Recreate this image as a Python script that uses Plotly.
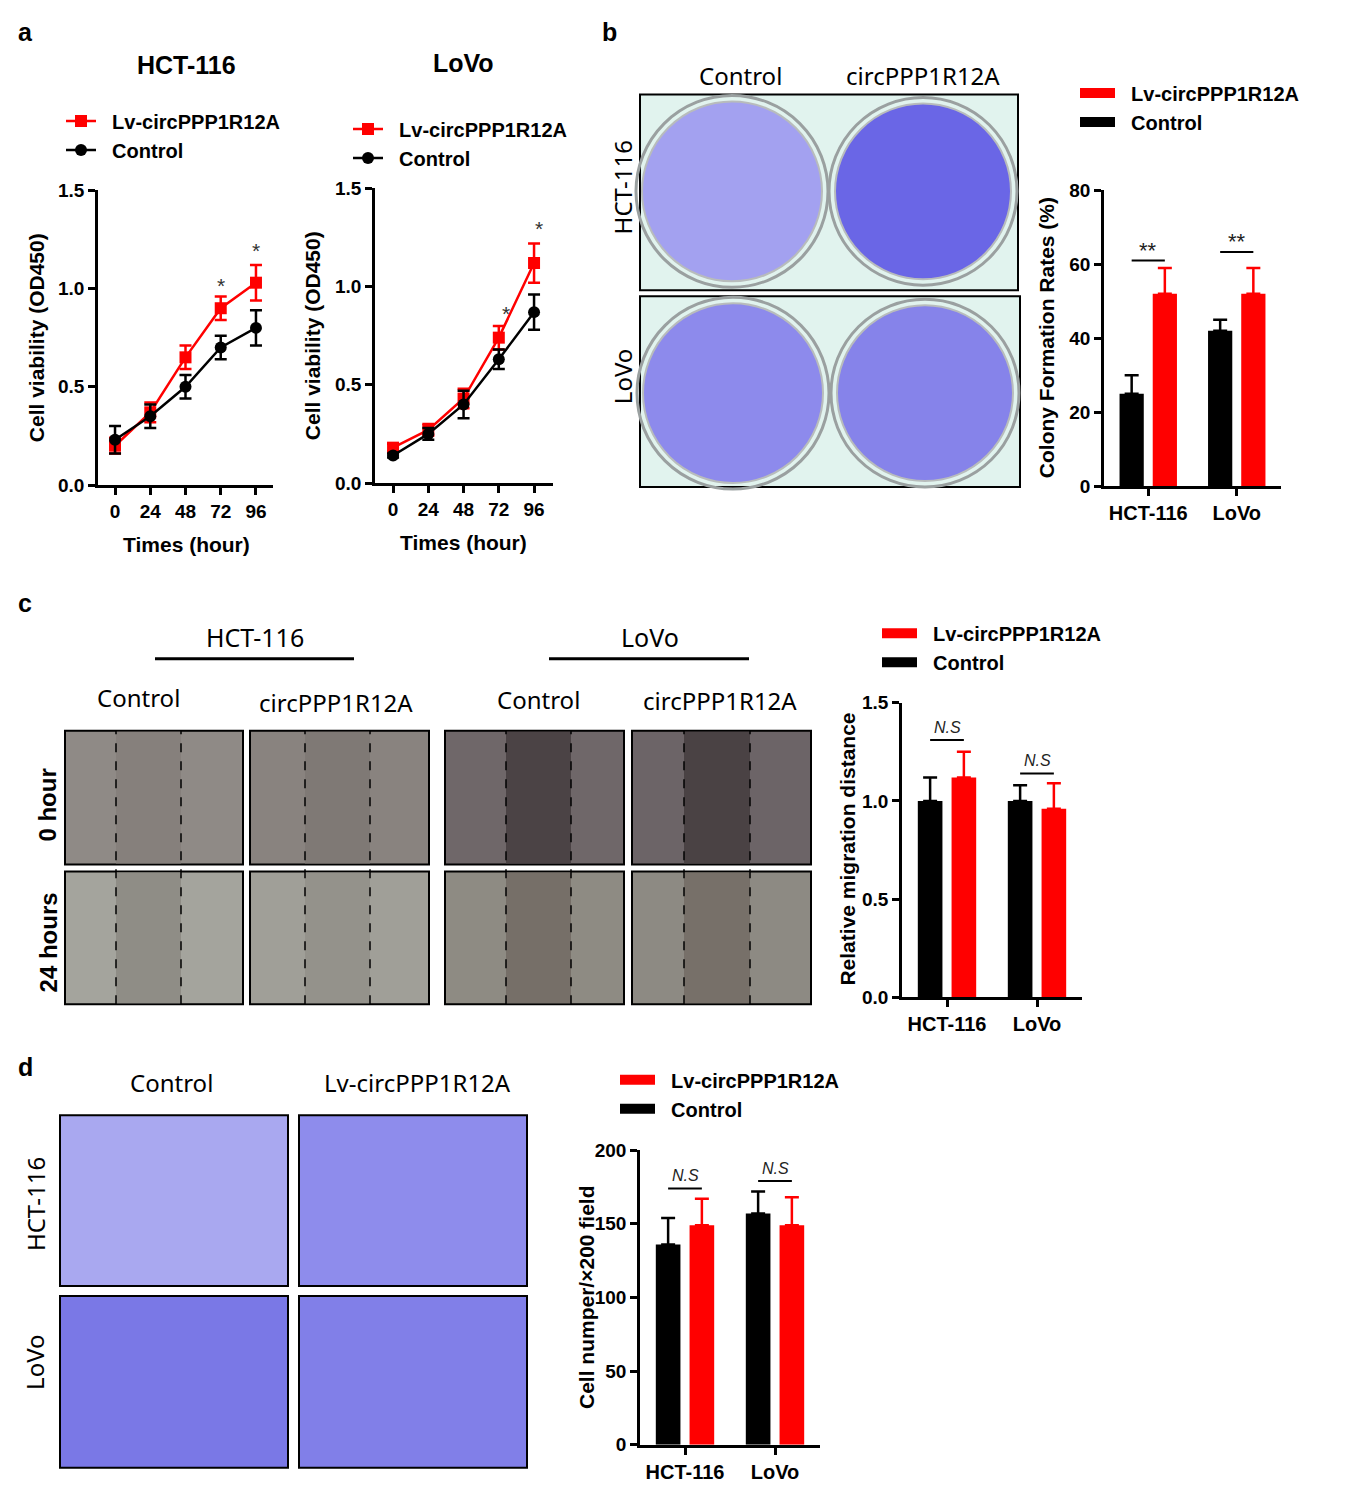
import plotly.graph_objects as go

W, H = 1350, 1508

# ---- data ----
hours = [0, 24, 48, 72, 96]
hct_lv = [0.20, 0.37, 0.65, 0.90, 1.03]
hct_lv_sd = [0.04, 0.05, 0.06, 0.06, 0.09]
hct_ctrl = [0.23, 0.35, 0.50, 0.70, 0.80]
hct_ctrl_sd = [0.07, 0.06, 0.06, 0.06, 0.09]
lovo_lv = [0.18, 0.27, 0.43, 0.74, 1.12]
lovo_lv_sd = [0.02, 0.03, 0.05, 0.06, 0.10]
lovo_ctrl = [0.14, 0.25, 0.40, 0.63, 0.87]
lovo_ctrl_sd = [0.01, 0.03, 0.07, 0.05, 0.09]
hct_star_x = [72, 96]
hct_star_y = [1.03, 1.21]
lovo_star_x = [72, 96]
lovo_star_y = [0.88, 1.31]

cells = ["HCT-116", "LoVo"]
colony_ctrl = [25, 42]
colony_ctrl_sd = [5, 3]
colony_lv = [52, 52]
colony_lv_sd = [7, 7]
colony_sig = ["**", "**"]
colony_sig_y = [61, 63.3]

migr_ctrl = [1.00, 1.00]
migr_ctrl_sd = [0.12, 0.08]
migr_lv = [1.12, 0.96]
migr_lv_sd = [0.13, 0.13]
migr_sig = ["N.S", "N.S"]
migr_sig_y = [1.31, 1.14]

inv_ctrl = [136, 157]
inv_ctrl_sd = [18, 15]
inv_lv = [149, 149]
inv_lv_sd = [18, 19]
inv_sig = ["N.S", "N.S"]
inv_sig_y = [174, 179]

RED = "#ff0000"
BLACK = "#000000"
LV = "Lv-circPPP1R12A"
CTRL = "Control"
PAD = "\u00a0\u00a0"  # a little extra room between legend key and label
ARIAL = "Liberation Sans"
YAHEI = "Noto Sans"
BARGAP = 0.25

# the photographed page comes out slightly squeezed in y, undo that here
Y_OFF, Y_SCALE = 9.4, 0.9873


def px(x):
    return x / W


def py(y):
    return 1 - ((y - Y_OFF) / Y_SCALE) / H


fig = go.Figure()

# ---- panel a: line charts ----
def add_growth(xa, ya, leg, lv, lv_sd, ctrl, ctrl_sd):
    fig.add_trace(go.Scatter(
        x=hours, y=lv, name=PAD + LV, mode="lines+markers",
        line=dict(color=RED, width=2.5),
        marker=dict(symbol="square", size=12, color=RED),
        error_y=dict(type="data", array=lv_sd, color=RED, thickness=2.5, width=6),
        xaxis=xa, yaxis=ya, legend=leg))
    fig.add_trace(go.Scatter(
        x=hours, y=ctrl, name=PAD + CTRL, mode="lines+markers",
        line=dict(color=BLACK, width=2.5),
        marker=dict(symbol="circle", size=12, color=BLACK),
        error_y=dict(type="data", array=ctrl_sd, color=BLACK, thickness=2.5, width=6),
        xaxis=xa, yaxis=ya, legend=leg))


add_growth("x", "y", "legend", hct_lv, hct_lv_sd, hct_ctrl, hct_ctrl_sd)
add_growth("x2", "y2", "legend2", lovo_lv, lovo_lv_sd, lovo_ctrl, lovo_ctrl_sd)


# ---- bar charts ----
def add_bars(xa, ya, leg, ctrl, ctrl_sd, lv, lv_sd):
    fig.add_trace(go.Bar(
        x=cells, y=ctrl, name=CTRL, marker=dict(color=BLACK, line=dict(width=0)),
        error_y=dict(type="data", array=ctrl_sd, arrayminus=[0] * len(ctrl),
                     symmetric=False, color=BLACK, thickness=2.5, width=7),
        xaxis=xa, yaxis=ya, showlegend=False))
    fig.add_trace(go.Bar(
        x=cells, y=lv, name=LV, marker=dict(color=RED, line=dict(width=0)),
        error_y=dict(type="data", array=lv_sd, arrayminus=[0] * len(lv),
                     symmetric=False, color=RED, thickness=2.5, width=7),
        xaxis=xa, yaxis=ya, showlegend=False))
    # wide legend keys like the GraphPad ones
    for name, col in [(LV, RED), (CTRL, BLACK)]:
        fig.add_trace(go.Scatter(
            x=[None], y=[None], name=PAD + name, mode="lines",
            line=dict(color=col, width=14), xaxis=xa, yaxis=ya, legend=leg))


add_bars("x3", "y3", "legend3", colony_ctrl, colony_ctrl_sd, colony_lv, colony_lv_sd)
add_bars("x4", "y4", "legend4", migr_ctrl, migr_ctrl_sd, migr_lv, migr_lv_sd)
add_bars("x5", "y5", "legend5", inv_ctrl, inv_ctrl_sd, inv_lv, inv_lv_sd)

tickfont = dict(family=ARIAL, size=19, color="black", weight=700)
axis_style = dict(showgrid=False, zeroline=False, showline=True, linecolor="black",
                  linewidth=2.5, ticks="outside", ticklen=7, tickwidth=2.5,
                  tickcolor="black", tickfont=tickfont, fixedrange=True)


def xdom(a, b):
    return [px(a), px(b)]


def ydom(top, bottom):
    return [py(bottom), py(top)]


layout_axes = dict(
    xaxis=dict(domain=xdom(98, 273), range=[-11.6, 107.6], anchor="y",
               tickvals=hours, **axis_style),
    yaxis=dict(domain=ydom(190, 485), range=[0, 1.5], anchor="x", dtick=0.5,
               tickformat=".1f", **axis_style),
    xaxis2=dict(domain=xdom(375, 553), range=[-12.3, 108.9], anchor="y2",
                tickvals=hours, **axis_style),
    yaxis2=dict(domain=ydom(188, 483), range=[0, 1.5], anchor="x2", dtick=0.5,
                tickformat=".1f", **axis_style),
    xaxis3=dict(domain=xdom(1104, 1281), range=[-0.5, 1.5], anchor="y3",
                **axis_style),
    yaxis3=dict(domain=ydom(190, 486), range=[0, 80], anchor="x3", dtick=20,
                **axis_style),
    xaxis4=dict(domain=xdom(902, 1082), range=[-0.5, 1.5], anchor="y4",
                **axis_style),
    yaxis4=dict(domain=ydom(703, 998), range=[0, 1.5], anchor="x4", dtick=0.5,
                tickformat=".1f", **axis_style),
    xaxis5=dict(domain=xdom(640, 820), range=[-0.5, 1.5], anchor="y5",
                **axis_style),
    yaxis5=dict(domain=ydom(1151, 1446), range=[0, 200], anchor="x5", dtick=50,
                **axis_style),
)
for k in ["xaxis3", "xaxis4", "xaxis5"]:
    layout_axes[k]["tickfont"] = dict(family=ARIAL, size=20, color="black", weight=700)

legfont = dict(family=ARIAL, size=20, color="black", weight=700)


def leg(x, y, iw):
    return dict(x=px(x), y=py(y), xanchor="left", yanchor="top", font=legfont,
                bgcolor="rgba(0,0,0,0)", traceorder="normal", tracegroupgap=0,
                itemwidth=iw, itemclick=False)


annotations = []
shapes = []


def text(x, y, s, size=20, family=YAHEI, bold=False, angle=0):
    annotations.append(dict(
        x=px(x), y=py(y), xref="paper", yref="paper", text=s, showarrow=False,
        textangle=angle, xanchor="center", yanchor="middle",
        font=dict(family=family, size=size, color="black",
                  weight=700 if bold else 400)))


def rect(x0, y0, x1, y1, fill, line="black", lw=2):
    shapes.append(dict(type="rect", xref="paper", yref="paper", x0=px(x0), x1=px(x1),
                       y0=py(y1), y1=py(y0), fillcolor=fill,
                       line=dict(color=line, width=lw), layer="below"))


def vline(x, y0, y1):
    shapes.append(dict(type="line", xref="paper", yref="paper", x0=px(x), x1=px(x),
                       y0=py(y1), y1=py(y0), line=dict(color="black", width=1.5, dash="dash")))


def hline(x0, x1, y, lw=3):
    shapes.append(dict(type="line", xref="paper", yref="paper", x0=px(x0), x1=px(x1),
                       y0=py(y), y1=py(y), line=dict(color="black", width=lw)))


def circle(cx, cy, r, fill, line="#8f9494", lw=3):
    shapes.append(dict(type="circle", xref="paper", yref="paper",
                       x0=px(cx - r), x1=px(cx + r), y0=py(cy + r), y1=py(cy - r),
                       fillcolor=fill, line=dict(color=line, width=lw), layer="below"))


# panel letters
text(25, 31, "a", 25, ARIAL, True)
text(609, 31, "b", 25, ARIAL, True)
text(25, 603, "c", 25, ARIAL, True)
text(25, 1068, "d", 25, ARIAL, True)

# panel a titles
text(186, 64, "HCT-116", 25, ARIAL, True)
text(464, 62, "LoVo", 25, ARIAL, True)
text(36, 338, "Cell viability (OD450)", 21, ARIAL, True, -90)
text(312, 336, "Cell viability (OD450)", 21, ARIAL, True, -90)
text(186, 545, "Times (hour)", 21, ARIAL, True)
text(464, 543, "Times (hour)", 21, ARIAL, True)

for sx, sy in zip(hct_star_x, hct_star_y):
    annotations.append(dict(x=sx, y=sy, xref="x", yref="y", text="*", showarrow=False,
                            yshift=-3, font=dict(family=ARIAL, size=21, color="#333")))
for i, (sx, sy) in enumerate(zip(lovo_star_x, lovo_star_y)):
    annotations.append(dict(x=sx, y=sy, xref="x2", yref="y2", text="*", showarrow=False,
                            xshift=7 if i == 0 else 5, yshift=-3,
                            font=dict(family=ARIAL, size=21, color="#333")))

# panel b photos: colony plates
text(740, 75, "Control", 24, YAHEI)
text(923, 75, "circPPP1R12A", 24, YAHEI)
text(622, 187, "HCT-116", 24, YAHEI, False, -90)
text(622, 376, "LoVo", 24, YAHEI, False, -90)
rect(640, 94, 1018, 290, "#e1f3ee")
rect(640, 296, 1020, 487, "#e1f3ee")
circle(732, 191, 96, "rgba(0,0,0,0)", "#9aa0a0", 3)
circle(732, 191, 90, "#a3a1f0", "#b8bcbc", 2)
circle(923, 191, 94, "rgba(0,0,0,0)", "#9aa0a0", 3)
circle(923, 191, 88, "#6a66e6", "#b8bcbc", 2)
circle(733, 393, 96, "rgba(0,0,0,0)", "#9aa0a0", 3)
circle(733, 393, 90, "#8d8aec", "#b8bcbc", 2)
circle(925, 393, 94, "rgba(0,0,0,0)", "#9aa0a0", 3)
circle(925, 393, 88, "#8683ea", "#b8bcbc", 2)

text(1046, 338, "Colony Formation Rates (%)", 21, ARIAL, True, -90)

# panel c photos: wound healing
text(255, 637, "HCT-116", 25, YAHEI)
text(650, 637, "LoVo", 25, YAHEI)
hline(155, 354, 659)
hline(549, 749, 659)
text(138, 698, "Control", 24, YAHEI)
text(336, 703, "circPPP1R12A", 24, YAHEI)
text(538, 700, "Control", 24, YAHEI)
text(720, 701, "circPPP1R12A", 24, YAHEI)
text(48, 806, "0 hour", 24, ARIAL, True, -90)
text(48, 943, "24 hours", 24, ARIAL, True, -90)

cols = [(65, 243, 116, 181), (250, 429, 305, 370), (445, 624, 506, 571), (632, 811, 684, 750)]
rows = [(731, 865), (872, 1005)]
outer = [["#8f8a86", "#89837f", "#6f6769", "#6c6467"],
         ["#a4a49d", "#a09f98", "#8e8b83", "#8d8a83"]]
gap = [["#86807c", "#7f7975", "#4b4345", "#4a4244"],
       ["#8f8d86", "#94928b", "#766f68", "#777069"]]
for r, (y0, y1) in enumerate(rows):
    for c, (x0, x1, d0, d1) in enumerate(cols):
        rect(x0, y0, x1, y1, outer[r][c])
        shapes.append(dict(type="rect", xref="paper", yref="paper", x0=px(d0), x1=px(d1),
                           y0=py(y1 - 1), y1=py(y0 + 1), fillcolor=gap[r][c],
                           line=dict(width=0), layer="below"))
for x0, x1, d0, d1 in cols:
    vline(d0, 731, 1005)
    vline(d1, 731, 1005)

text(848, 850, "Relative migration distance", 21, ARIAL, True, -90)

# panel d photos: transwell
text(171, 1083, "Control", 24, YAHEI)
text(417, 1083, "Lv-circPPP1R12A", 24, YAHEI)
text(35, 1205, "HCT-116", 24, YAHEI, False, -90)
text(35, 1363, "LoVo", 24, YAHEI, False, -90)
rect(60, 1116, 288, 1287, "#a9a8f0")
rect(299, 1116, 527, 1287, "#8e8cec")
rect(60, 1297, 288, 1469, "#7a78e6")
rect(299, 1297, 527, 1469, "#817fe8")

text(586, 1298, "Cell numper/×200 field", 21, ARIAL, True, -90)

# significance brackets on bar charts
off = (1 - BARGAP) / 4


def add_sig(xa, ya, marks, ys, lift):
    for i, (m, yv) in enumerate(zip(marks, ys)):
        shapes.append(dict(type="line", xref=xa, yref=ya, x0=i - off, x1=i + off,
                           y0=yv, y1=yv, line=dict(color="black", width=2)))
        ns = m == "N.S"
        annotations.append(dict(x=i, y=yv, xref=xa, yref=ya, text=m,
                                showarrow=False, yanchor="bottom", yshift=lift,
                                font=dict(family=ARIAL, size=16 if ns else 22, color="#222",
                                          style="italic" if ns else "normal")))


add_sig("x3", "y3", colony_sig, colony_sig_y, -4)
add_sig("x4", "y4", migr_sig, migr_sig_y, 2)
add_sig("x5", "y5", inv_sig, inv_sig_y, 2)

fig.update_layout(
    width=W, height=H, margin=dict(l=0, r=0, t=0, b=0),
    paper_bgcolor="white", plot_bgcolor="rgba(0,0,0,0)",
    font=dict(family=ARIAL, color="black"),
    barmode="group", bargap=BARGAP, bargroupgap=0.27,
    showlegend=True,
    legend=leg(61, 101, 30),
    legend2=leg(348, 109, 30),
    legend3=leg(1075, 73, 35),
    legend4=leg(877, 614, 35),
    legend5=leg(615, 1061, 35),
    annotations=annotations, shapes=shapes,
    **layout_axes,
)

pin = ("var gd=document.getElementById('{plot_id}');"
       "gd.style.position='absolute';gd.style.top='0px';gd.style.left='0px';"
       "document.body.style.margin='0';document.body.style.overflow='hidden';")
fig.write_html("out.html", config={"displayModeBar": False}, post_script=pin)
